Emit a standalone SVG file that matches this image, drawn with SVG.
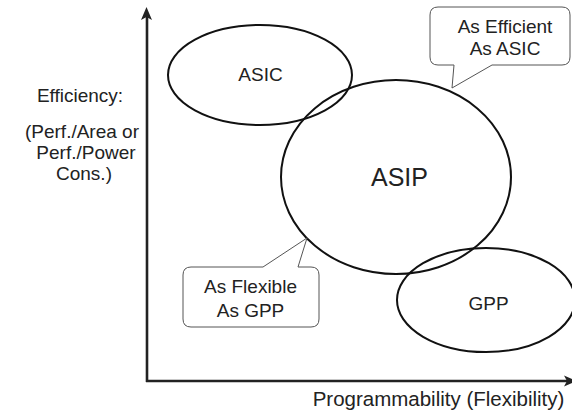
<svg xmlns="http://www.w3.org/2000/svg" width="572" height="413" viewBox="0 0 572 413">
<style>
text { font-family: "Liberation Sans", Arial, sans-serif; fill: #222; }
.lbl { font-size: 19px; text-anchor: middle; }
.ell { fill: none; stroke: #111; stroke-width: 2; }
.axis { stroke: #222; stroke-width: 2.6; fill: none; }
.head { fill: #222; stroke: none; }
.call { fill: #fff; stroke: #555; stroke-width: 1; stroke-linejoin: round; }
</style>
<rect width="572" height="413" fill="#fff"/>
<g id="connectors">
  <line class="axis" x1="147" y1="382" x2="147" y2="16"/>
  <polygon class="head" points="146.5,7 152,20 146.5,17 141,20"/>
  <line class="axis" x1="146" y1="381" x2="568" y2="381"/>
  <polygon class="head" points="577,381 564,375.5 567,381 564,386.5"/>
</g>
<g id="yLabel">
  <text class="lbl" x="80" y="102">Efficiency:</text>
  <text class="lbl" x="82" y="138">(Perf./Area or</text>
  <text class="lbl" x="86" y="159">Perf./Power</text>
  <text class="lbl" x="84" y="180">Cons.)</text>
</g>
<g id="xLabel">
  <text x="438.5" y="406" style="font-size:20.5px;text-anchor:middle">Programmability (Flexibility)</text>
</g>
<g id="ASIC">
  <ellipse class="ell" cx="260" cy="75" rx="92" ry="50"/>
  <text class="lbl" x="260.5" y="81">ASIC</text>
</g>
<g id="ASIP">
  <ellipse class="ell" cx="396" cy="177" rx="115" ry="97"/>
  <text x="399.5" y="186" style="font-size:25px;text-anchor:middle">ASIP</text>
</g>
<g id="GPP">
  <ellipse class="ell" cx="486" cy="300" rx="89" ry="52"/>
  <text class="lbl" x="488.5" y="310">GPP</text>
</g>
<g id="calloutEfficient">
  <path class="call" d="M438,7 H562 Q570,7 570,15 V57 Q570,65 562,65 H492 L452,88 L454,65 H438 Q430,65 430,57 V15 Q430,7 438,7 Z"/>
  <text class="lbl" x="505" y="33">As Efficient</text>
  <text class="lbl" x="505" y="55">As ASIC</text>
</g>
<g id="calloutFlexible">
  <path class="call" d="M191,267 H263 L307,238 L298,267 H311 Q319,267 319,275 V319 Q319,327 311,327 H191 Q183,327 183,319 V275 Q183,267 191,267 Z"/>
  <text class="lbl" x="250.5" y="293">As Flexible</text>
  <text class="lbl" x="250.5" y="317">As GPP</text>
</g>
</svg>
